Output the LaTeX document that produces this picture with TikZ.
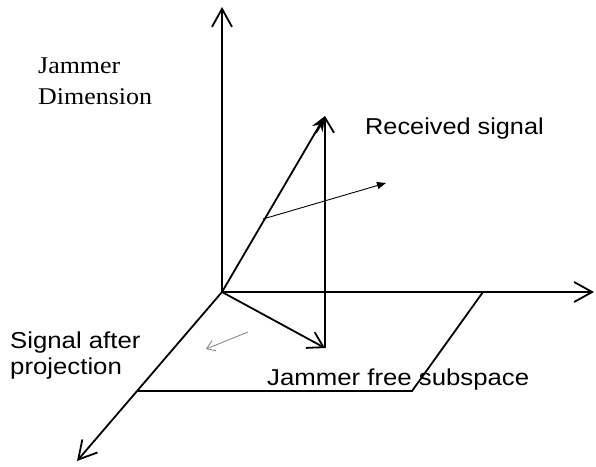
\documentclass[tikz,border=0pt]{standalone}
\usepackage{fontspec}
\setmainfont{Liberation Serif}
\setsansfont{Liberation Sans}
\usetikzlibrary{arrows.meta}
\begin{document}
\begin{tikzpicture}[x=1pt,y=-1pt,
  axis/.style={line width=1.8pt,-{Straight Barb[length=18pt,width=20pt,line width=1.8pt]}},
  vec/.style={line width=1.8pt,-{Straight Barb[length=15pt,width=18pt,line width=1.8pt]}},
  vecfill/.style={line width=1.8pt,-{Stealth[length=15pt,width=12pt]}},
  thinvec/.style={line width=0.9pt,-{Triangle[length=9pt,width=7pt]}},
  grayvec/.style={line width=0.8pt,draw=gray,-{Straight Barb[length=8pt,width=11pt,line width=0.8pt]}},
  edge/.style={line width=1.8pt},
  sanslbl/.style={inner sep=0pt,anchor=base west,font=\sffamily\fontsize{23}{26}\selectfont},
  seriflbl/.style={inner sep=0pt,anchor=base west,font=\rmfamily\fontsize{24}{29}\selectfont}]
\useasboundingbox (0,0) rectangle (596,466);
\coordinate (O) at (222,292);
\coordinate (Ztop) at (222,7);
\coordinate (Xend) at (594,292);
\coordinate (Yend) at (77,461);
\coordinate (R) at (325,116);
\coordinate (P) at (325,348);
\coordinate (A) at (483,292);
\coordinate (B) at (412,391);
\coordinate (C) at (138,391);
\coordinate (T1) at (263,219);
\coordinate (T2) at (386,183);
\coordinate (G1) at (248,332);
\coordinate (G2) at (206,349);
% axes
\draw[axis] (O) -- (Ztop);
\draw[axis] (O) -- (Xend);
\draw[axis] (O) -- (Yend);
% subspace plane
\draw[edge] (A) -- (B) -- (C);
% vectors
\draw[vec] (O) -- (P);
\draw[vec] (P) -- (R);
\draw[vecfill] (O) -- (R);
\draw[thinvec] (T1) -- (T2);
\draw[grayvec] (G1) -- (G2);
% labels
\node[seriflbl] (jd1) at (38,73) {\scalebox{1.08}[1]{Jammer}};
\node[seriflbl] (jd2) at (38,104) {\scalebox{1.08}[1]{Dimension}};
\node[sanslbl] (rs) at (365,134) {\scalebox{1.1}[1]{Received signal}};
\node[sanslbl] (sa1) at (10,348) {\scalebox{1.12}[1]{Signal after}};
\node[sanslbl] (sa2) at (10,374) {\scalebox{1.12}[1]{projection}};
\node[sanslbl] (jf) at (267,385) {\scalebox{1.12}[1]{Jammer free subspace}};
\end{tikzpicture}
\end{document}
